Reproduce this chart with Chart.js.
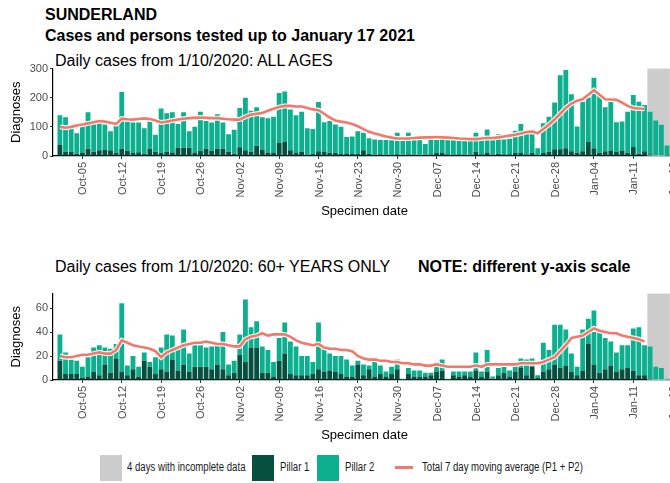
<!DOCTYPE html>
<html>
<head>
<meta charset="utf-8">
<script src="https://cdn.jsdelivr.net/npm/chart.js@4.4.1/dist/chart.umd.min.js"></script>
<style>
  html, body { margin: 0; padding: 0; background: #fff; }
  body { width: 670px; height: 483px; overflow: hidden; position: relative; font-family: "Liberation Sans", Arial, sans-serif; }
  .txt { position: absolute; white-space: nowrap; color: #000; line-height: 1; }
  .title { font-weight: bold; font-size: 16px; }
  .sub { font-size: 16px; }
  canvas { position: absolute; left: 0; }
  .key { position: absolute; top: 455px; width: 22px; height: 26px; }
  .ltxt { position: absolute; top: 461px; font-size: 12px; line-height: 1; color: #1a1a1a; white-space: nowrap;
          transform: scaleX(0.8); transform-origin: left center; }
</style>
</head>
<body>
<div class="txt title" style="left:45px; top:7px;">SUNDERLAND</div>
<div class="txt title" style="left:45px; top:28px;">Cases and persons tested up to January 17 2021</div>
<div class="txt sub" style="left:55px; top:53px;">Daily cases from 1/10/2020: ALL AGES</div>
<div class="txt sub" style="left:55px; top:259px;">Daily cases from 1/10/2020: 60+ YEARS ONLY</div>
<div class="txt sub" style="left:418px; top:259px; font-weight:bold;">NOTE: different y-axis scale</div>

<canvas id="allAges" width="676" height="162" style="top:60px;"></canvas>
<canvas id="over60" width="676" height="161" style="top:285px;"></canvas>

<div class="key" style="left:100px; background:#cccccc;"></div>
<div class="ltxt" style="left:127px;">4 days with incomplete data</div>
<div class="key" style="left:252px; background:#07503f;"></div>
<div class="ltxt" style="left:280px;">Pillar 1</div>
<div class="key" style="left:317px; background:#0cb08e;"></div>
<div class="ltxt" style="left:345px;">Pillar 2</div>
<div style="position:absolute; left:395px; top:466px; width:18px; height:2.5px; background:#f4776b;"></div>
<div class="ltxt" style="left:422px;">Total 7 day moving average (P1 + P2)</div>

<script>
// Days are counted from 1 Oct 2020 (day 0) to 17 Jan 2021 (day 108)
const tickDays = [4, 11, 18, 25, 32, 39, 46, 53, 60, 67, 74, 81, 88, 95, 102, 109];
const tickLabels = ['Oct-05', 'Oct-12', 'Oct-19', 'Oct-26', 'Nov-02', 'Nov-09', 'Nov-16', 'Nov-23',
                    'Nov-30', 'Dec-07', 'Dec-14', 'Dec-21', 'Dec-28', 'Jan-04', 'Jan-11', 'Jan-18'];
const incompleteDays = [105, 106, 107, 108];

// All ages
const allPillar1 = [
  38, 15, 15, 8, 12, 25, 15, 20, 22, 20, 10, 25, 18, 10, 13, 8, 25, 15, 10, 15,
  12, 28, 28, 28, 12, 18, 25, 18, 25, 25, 15, 8, 30, 20, 15, 35, 22, 12, 12, 45,
  48, 20, 12, 15, 5, 8, 16, 14, 11, 11, 7, 9, 7, 8, 20, 8, 5, 6, 5, 5,
  6, 4, 6, 5, 4, 5, 6, 10, 12, 6, 5, 6, 5, 5, 15, 6, 12, 5, 8, 6,
  6, 10, 12, 6, 10, 5, 10, 15, 23, 23, 27, 16, 11, 16, 48, 27, 11, 16, 19, 14,
  19, 11, 31, 8, 16, 5, 2, 2, 1
];
const allPillar2 = [
  102, 118, 85, 70, 93, 125, 95, 93, 86, 65, 95, 195, 100, 105, 102, 87, 93, 58, 153, 132,
  138, 82, 122, 57, 88, 134, 95, 97, 118, 90, 60, 82, 135, 180, 140, 132, 111, 118, 123, 171,
  173, 140, 128, 137, 90, 85, 169, 102, 109, 97, 93, 56, 60, 77, 60, 53, 52, 49, 50, 49,
  74, 50, 74, 50, 51, 36, 51, 45, 46, 49, 50, 48, 49, 47, 65, 51, 79, 52, 67, 51,
  53, 77, 98, 76, 79, 22, 102, 120, 161, 254, 268, 196, 90, 170, 153, 242, 196, 151, 167, 102,
  99, 141, 178, 178, 159, 147, 120, 105, 35
];
const allMovingAvg = [
  100, 97, 100, 105, 108, 112, 116, 120, 118, 114, 110, 128, 126, 125, 127, 129, 127, 122, 115, 118,
  122, 125, 128, 130, 131, 132, 131, 130, 130, 128, 126, 125, 125, 135, 142, 145, 148, 155, 162, 168,
  172, 172, 170, 170, 165, 160, 157, 145, 132, 122, 118, 115, 110, 102, 92, 83, 77, 72, 67, 63,
  60, 60, 60, 62, 63, 64, 64, 65, 64, 63, 62, 60, 59, 58, 58, 60, 62, 62, 64, 67,
  70, 73, 77, 82, 84, 78, 93, 108, 125, 145, 165, 180, 190, 195, 210, 226, 210, 195, 194, 193,
  183, 172, 165, 163, 162
];

// 60+ years
const oldPillar1 = [
  16, 5, 5, 5, 2, 3, 7, 4, 13, 6, 18, 7, 4, 9, 3, 16, 11, 5, 9, 7,
  17, 8, 13, 7, 11, 11, 11, 9, 13, 9, 4, 6, 21, 15, 27, 27, 6, 6, 3, 16,
  22, 5, 4, 4, 4, 5, 9, 7, 8, 7, 5, 3, 3, 13, 4, 9, 3, 5, 3, 5,
  9, 0, 5, 3, 3, 3, 4, 7, 8, 0, 4, 3, 4, 3, 8, 3, 7, 1, 4, 6,
  3, 7, 10, 4, 11, 2, 7, 9, 13, 10, 12, 7, 4, 8, 30, 13, 6, 9, 12, 7,
  9, 10, 8, 4, 4, 1, 0, 0, 0
];
const oldPillar2 = [
  22, 18, 12, 11, 9, 16, 20, 25, 14, 20, 12, 57, 8, 11, 8, 7, 4, 14, 18, 31,
  20, 20, 29, 15, 19, 18, 16, 19, 18, 31, 9, 10, 17, 52, 17, 22, 22, 19, 12, 19,
  26, 27, 24, 16, 16, 10, 39, 19, 14, 13, 15, 14, 9, 3, 9, 3, 16, 7, 4, 6,
  8, 1, 5, 5, 5, 3, 2, 8, 9, 1, 3, 4, 3, 4, 15, 4, 18, 2, 6, 5,
  5, 8, 8, 13, 7, 2, 24, 16, 33, 36, 30, 15, 7, 34, 21, 45, 34, 26, 20, 16,
  20, 19, 35, 40, 25, 27, 11, 10, 1
];
const oldMovingAvg = [
  20, 19, 19, 20, 21, 21, 22, 23, 22, 22, 25, 33, 31, 29, 28, 27, 26, 24, 19, 23,
  25, 27, 29, 30, 31, 31, 32, 31, 30, 30, 29, 28, 28, 34, 36, 37, 39, 37, 38, 38,
  38, 36, 33, 31, 30, 29, 30, 27, 26, 26, 25, 25, 24, 20, 18, 17, 17, 16, 16, 15,
  15, 14, 14, 13, 13, 12, 12, 13, 12, 11, 11, 11, 11, 11, 12, 11, 13, 13, 13, 13,
  13, 13, 14, 14, 14, 14, 15, 17, 19, 24, 29, 35, 36, 37, 40, 43, 41, 40, 39, 39,
  37, 36, 35, 34, 32
];

const allTicksY = [0, 50, 100, 150, 200, 250, 300];
const oldTicksY = [0, 20, 40, 60];

Chart.defaults.font.family = '"Liberation Sans", Arial, sans-serif';
Chart.defaults.animation = false;

// grey band behind the last days with incomplete data
const incompleteBand = {
  id: 'incompleteBand',
  beforeDatasetsDraw(chart) {
    const x = chart.scales.x;
    const area = chart.chartArea;
    const left = x.getPixelForValue(incompleteDays[0] - 0.5);
    const right = x.getPixelForValue(incompleteDays[incompleteDays.length - 1] + 0.5);
    const ctx = chart.ctx;
    ctx.save();
    ctx.fillStyle = '#cccccc';
    ctx.fillRect(left, area.top, right - left, area.bottom - area.top);
    ctx.restore();
  }
};

function points(values) {
  return values.map((v, i) => ({ x: i, y: v }));
}

function buildChart(id, pillar1, pillar2, movingAvg, yMax, yTicks) {
  return new Chart(document.getElementById(id), {
    type: 'bar',
    data: {
      datasets: [
        {
          type: 'line', data: points(movingAvg), stack: 'ma',
          borderColor: '#f4776b', borderWidth: 2.6, pointRadius: 0, tension: 0, order: 0
        },
        {
          type: 'line', data: points(movingAvg), stack: 'halo',
          borderColor: 'rgba(255,255,255,0.9)', borderWidth: 5, pointRadius: 0, tension: 0, order: 1
        },
        {
          label: 'Pillar 1', data: points(pillar1), stack: 'cases',
          backgroundColor: '#07503f', order: 2
        },
        {
          label: 'Pillar 2', data: points(pillar2), stack: 'cases',
          backgroundColor: '#0cb08e', order: 2
        }
      ]
    },
    options: {
      responsive: false,
      layout: { padding: { top: 8, right: 0, bottom: 0, left: 0 } },
      datasets: { bar: { barPercentage: 0.86, categoryPercentage: 1 } },
      plugins: { legend: { display: false }, tooltip: { enabled: false } },
      scales: {
        x: {
          type: 'linear', min: -1.23, max: 109.6, offset: false,
          afterBuildTicks: s => { s.ticks = tickDays.map(v => ({ value: v })); },
          // fixed axis height; the last label may run off the right edge
          afterFit: s => { s.height = 66; s.paddingLeft = 0; s.paddingRight = 0; },
          ticks: {
            autoSkip: false, minRotation: 90, maxRotation: 90, padding: 3, labelOffset: 1,
            font: { size: 11 }, color: '#4d4d4d',
            callback: v => tickLabels[tickDays.indexOf(v)]
          },
          grid: { offset: false, drawOnChartArea: false, tickLength: 3, color: '#333' },
          border: { color: '#000', width: 1.2 },
          title: { display: true, text: 'Specimen date', font: { size: 13 }, color: '#000', padding: { top: 0, bottom: 3 } }
        },
        y: {
          stacked: true, min: 0, max: yMax,
          afterBuildTicks: s => { s.ticks = yTicks.map(v => ({ value: v })); },
          afterFit: s => { s.width = 53; },
          ticks: { font: { size: 11 }, color: '#4d4d4d', padding: 2 },
          grid: { drawOnChartArea: false, tickLength: 3, color: '#333' },
          border: { color: '#000', width: 1.2 },
          title: { display: true, text: 'Diagnoses', font: { size: 13 }, color: '#000', padding: { top: 9, bottom: 0 } }
        }
      }
    },
    plugins: [incompleteBand]
  });
}

buildChart('allAges', allPillar1, allPillar2, allMovingAvg, 300, allTicksY);
buildChart('over60', oldPillar1, oldPillar2, oldMovingAvg, 72, oldTicksY);
</script>
</body>
</html>
